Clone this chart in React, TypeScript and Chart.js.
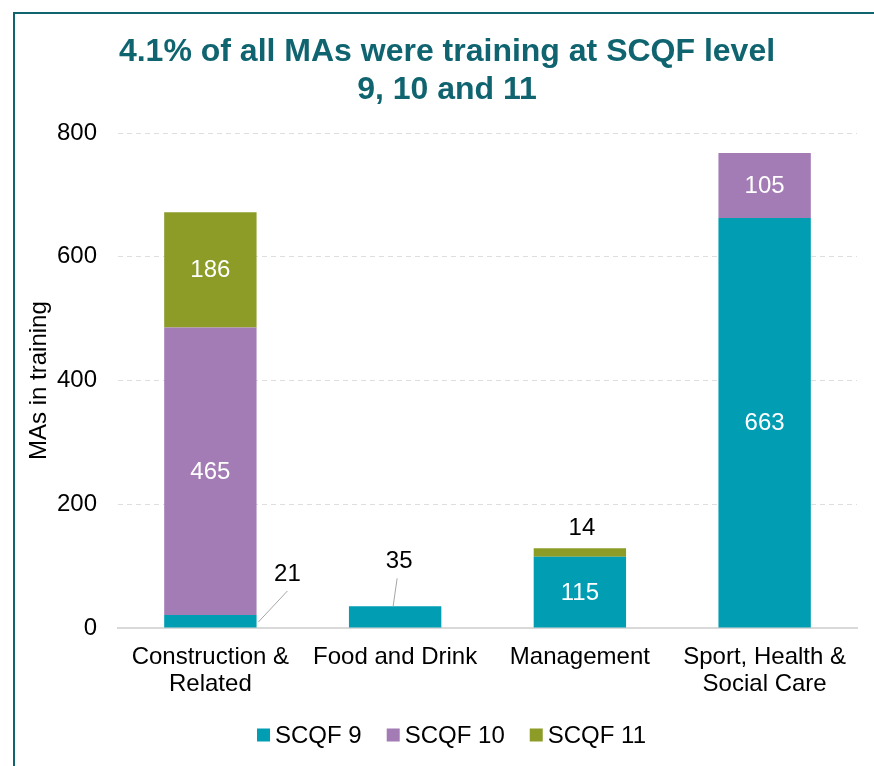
import React, { useEffect, useRef } from "react";
import { Chart, registerables } from "chart.js";

Chart.register(...registerables);

const categories: string[][] = [
  ["Construction &", "Related"],
  ["Food and Drink"],
  ["Management"],
  ["Sport, Health &", "Social Care"],
];
const scqf9: number[] = [21, 35, 115, 663];
const scqf10: number[] = [465, 0, 0, 105];
const scqf11: number[] = [186, 0, 14, 0];
const seriesNames: string[] = ["SCQF 9", "SCQF 10", "SCQF 11"];
const yTicks: number[] = [0, 200, 400, 600, 800];
const titleLines: string[] = ["4.1% of all MAs were training at SCQF level", "9, 10 and 11"];

const COLORS = ["#009db3", "#a47cb5", "#8c9c27"];
const FONT = "'Liberation Sans', Arial, sans-serif";
const TEAL = "#0f6470";
const FS = 24;

// label placement styles: key "dataset-category"
const OUTSIDE: Record<string, { dx: number; dy: number; line?: number[] }> = {
  "0-0": { dx: 77, dy: -41, line: [48, 7, 77, -24] },
  "0-1": { dx: 4, dy: -45, line: [-2, 0, 2, -28] },
  "2-2": { dx: 2, dy: -20 },
};

const labelPlugin = {
  id: "barLabels",
  afterDatasetsDraw(chart: any) {
    const ctx = chart.ctx;
    ctx.save();
    ctx.font = `${FS}px ${FONT}`;
    ctx.textAlign = "center";
    ctx.textBaseline = "middle";
    chart.data.datasets.forEach((ds: any, di: number) => {
      const meta = chart.getDatasetMeta(di);
      meta.data.forEach((el: any, i: number) => {
        const v = ds.data[i];
        if (!v) return;
        const { x, y, base } = el.getProps(["x", "y", "base"], true);
        const top = Math.min(y, base);
        const o = OUTSIDE[`${di}-${i}`];
        if (o) {
          if (o.line) {
            ctx.strokeStyle = "#a6a6a6";
            ctx.lineWidth = 1;
            ctx.beginPath();
            ctx.moveTo(x + o.line[0], top + o.line[1]);
            ctx.lineTo(x + o.line[2], top + o.line[3]);
            ctx.stroke();
          }
          ctx.fillStyle = "#000";
          ctx.fillText(String(v), x + o.dx, top + o.dy);
        } else {
          ctx.fillStyle = "#fff";
          ctx.fillText(String(v), x, (y + base) / 2 + 1);
        }
      });
    });
    ctx.restore();
  },
};

const legendPlugin = {
  id: "customLegend",
  afterDraw(chart: any) {
    const ctx = chart.ctx;
    ctx.save();
    ctx.font = `${FS}px ${FONT}`;
    ctx.textBaseline = "middle";
    ctx.textAlign = "left";
    const box = 13, gapText = 5, gapItem = 25;
    const items = chart.data.datasets.map((ds: any) => ({
      label: ds.label,
      color: ds.backgroundColor,
      w: ctx.measureText(ds.label).width,
    }));
    const total =
      items.reduce((s: number, it: any) => s + box + gapText + it.w, 0) + gapItem * (items.length - 1);
    let x = chart.width / 2 + 7 - total / 2;
    const cy = chart.height - 31;
    items.forEach((it: any) => {
      ctx.fillStyle = it.color;
      ctx.fillRect(x, cy - box / 2, box, box);
      x += box + gapText;
      ctx.fillStyle = "#000";
      ctx.fillText(it.label, x, cy + 1);
      x += it.w + gapItem;
    });
    ctx.restore();
  },
};

export default function App() {
  const ref = useRef<HTMLCanvasElement>(null);
  useEffect(() => {
    if (!ref.current) return;
    const data = [scqf9, scqf10, scqf11];
    const chart = new Chart(ref.current, {
      type: "bar",
      data: {
        labels: categories,
        datasets: seriesNames.map((n, k) => ({
          label: n,
          data: data[k],
          backgroundColor: COLORS[k],
          borderWidth: 0,
          barPercentage: 0.5,
          categoryPercentage: 1,
        })),
      },
      options: {
        animation: false,
        responsive: false,
        maintainAspectRatio: false,
        layout: { padding: { left: 22, right: 17, top: 0, bottom: 60 } },
        plugins: {
          tooltip: { enabled: false },
          legend: { display: false },
          title: {
            display: true,
            text: titleLines,
            color: TEAL,
            font: { family: FONT, size: 32, weight: "bold", lineHeight: 1.19 },
            padding: { top: 19, bottom: 24 },
          },
        },
        scales: {
          x: {
            stacked: true,
            grid: { display: false },
            border: { display: true, color: "#d9d9d9", width: 2 },
            ticks: {
              color: "#000",
              font: { family: FONT, size: FS, lineHeight: 1.125 },
              padding: 8,
              maxRotation: 0,
            },
          },
          y: {
            stacked: true,
            min: 0,
            max: 800,
            afterBuildTicks: (axis: any) => {
              axis.ticks = yTicks.map((v) => ({ value: v }));
            },
            afterFit: (axis: any) => {
              axis.width = 81;
            },
            grid: {
              color: "#dedede",
              lineWidth: 1,
              drawTicks: false,
            },
            border: { display: false, dash: [5, 4] },
            ticks: {
              color: "#000",
              font: { family: FONT, size: FS },
              padding: 21,
            },
            title: {
              display: true,
              text: "MAs in training",
              color: "#000",
              font: { family: FONT, size: FS, lineHeight: 1.125 },
              padding: { top: -11, bottom: 5 },
            },
          },
        },
      },
      plugins: [labelPlugin, legendPlugin],
    });
    return () => chart.destroy();
  }, []);
  return (
    <div
      style={{
        position: "absolute",
        left: 13,
        top: 12,
        width: 861,
        height: 754,
        borderTop: `2px solid ${TEAL}`,
        borderLeft: `2px solid ${TEAL}`,
        background: "#fff",
        boxSizing: "border-box",
      }}
    >
      <canvas ref={ref} width={859} height={752} style={{ display: "block" }} />
    </div>
  );
}
